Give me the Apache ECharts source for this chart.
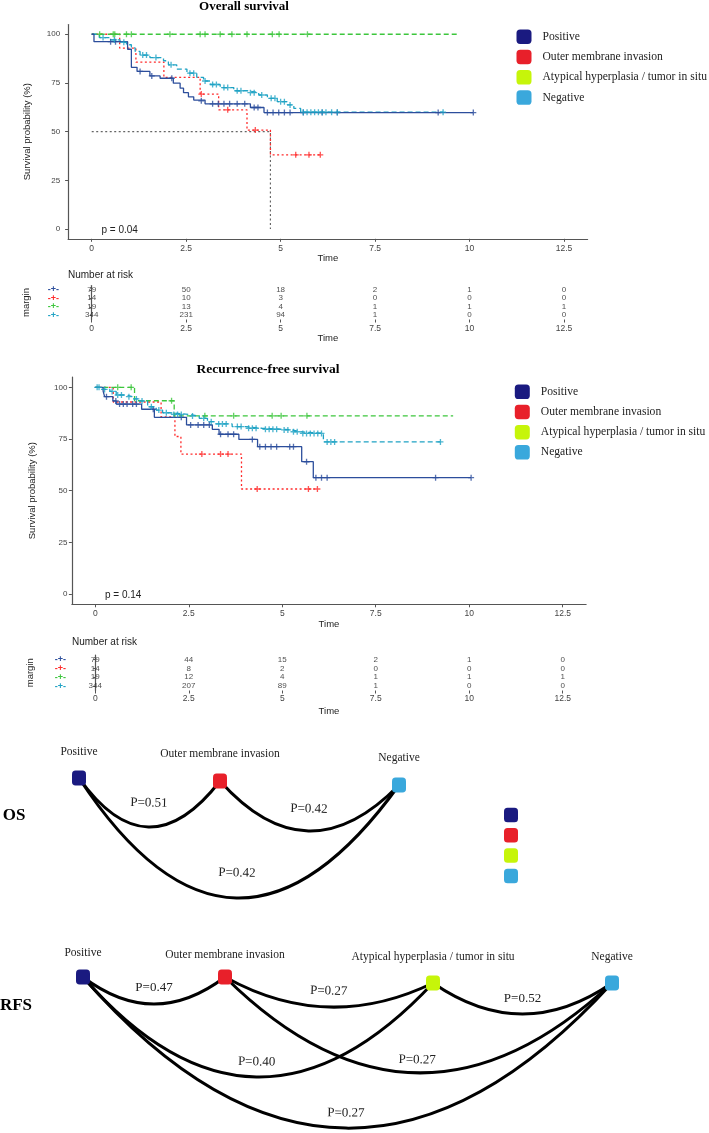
<!DOCTYPE html>
<html><head><meta charset="utf-8">
<script src="https://cdn.jsdelivr.net/npm/echarts@6/dist/echarts.min.js"></script>
<style>html,body{margin:0;padding:0;background:#fff}#c{width:709px;height:1133px}</style>
</head><body><div id="c"></div>
<script>
// ---------------- DATA ----------------
const groups = ['Positive', 'Outer membrane invasion', 'Atypical hyperplasia / tumor in situ', 'Negative'];
const timeTicks = [0, 2.5, 5, 7.5, 10, 12.5];
const survTicks = [0, 25, 50, 75, 100];
const riskTimes = [0, 2.5, 5, 7.5, 10, 12.5];

// Overall survival: step points [time, survival %] and censor marks
const osPositiveSteps = [[0,100],[0.06,96.2],[0.95,92.3],[1.05,83],[1.2,80.9],[1.54,78.6],[1.81,77.4],[2.16,74.9],[2.34,72.3],[2.43,70],[2.56,67.9],[2.7,66.2],[3.0,64.3],[4.2,62.4],[4.56,59.8],[10.1,59.8]];
const osPositiveCensor = [[0.5,96.2],[0.63,96.2],[1.28,80.9],[1.59,78.6],[2.12,77.4],[2.9,65.8],[3.2,64.3],[3.35,64.3],[3.5,64.3],[3.65,64.3],[3.85,64.3],[4.05,64.3],[4.3,62.4],[4.4,62.4],[4.65,59.8],[4.8,59.8],[4.95,59.8],[5.1,59.8],[5.25,59.8],[5.6,59.8],[6.1,59.8],[6.5,59.8],[9.17,59.8],[10.1,59.8]];
const osOuterSteps = [[0,100],[0.74,92.9],[1.17,85.7],[1.91,77.9],[2.87,69.3],[3.36,61.2],[4.11,50.8],[4.73,38.1],[6.05,38.1]];
const osOuterCensor = [[2.9,69.3],[3.6,61.2],[4.33,50.8],[5.4,38.1],[5.75,38.1],[6.05,38.1]];
const osAtypicalSteps = [[0,100],[9.74,100]];
const osAtypicalCensor = [[0.21,100],[0.57,100],[0.61,100],[0.92,100],[1.05,100],[2.07,100],[2.87,100],[3.0,100],[3.4,100],[3.71,100],[4.11,100],[4.78,100],[4.96,100],[5.71,100]];
const osNegativeSteps = [[0,100],[0.2,98.3],[0.48,97.1],[0.75,95.9],[0.92,94.6],[1.05,93],[1.15,91.2],[1.28,89.3],[1.54,88],[1.9,86.4],[2.03,84.3],[2.25,82.1],[2.52,80],[2.78,77.9],[2.96,76],[3.14,74.2],[3.4,72.6],[3.76,71],[4.11,70],[4.42,68.8],[4.65,67.1],[4.91,65.4],[5.18,63.7],[5.35,61.9],[5.53,60],[9.3,60]];
const osNegativeCensor = [[0.3,98.3],[0.6,97.1],[0.85,95.9],[1.35,89.3],[1.45,89.3],[1.7,88],[2.1,84.3],[2.6,80],[2.7,80],[3.0,76],[3.2,74.2],[3.3,74.2],[3.5,72.6],[3.6,72.6],[3.85,71],[3.95,71],[4.2,70],[4.3,70],[4.5,68.8],[4.75,67.1],[4.85,67.1],[5.0,65.4],[5.1,65.4],[5.25,63.7],[5.6,60],[5.7,60],[5.8,60],[5.9,60],[6.0,60],[6.1,60],[6.2,60],[6.35,60],[6.5,60],[9.3,60]];
const osMedianLine = [[0,50],[4.73,50],[4.73,0]];
const osPValue = 'p = 0.04';

// Recurrence-free survival
const rfsPositiveSteps = [[0,100],[0.21,98.2],[0.25,95.5],[0.47,93.4],[0.56,91.9],[1.24,89.4],[1.58,85.5],[2.44,81.8],[3.13,79.7],[3.31,77.3],[3.84,74.8],[4.34,71.3],[5.52,64],[5.83,56.3],[10.05,56.3]];
const rfsPositiveCensor = [[0.3,95.5],[0.55,93.4],[0.65,91.9],[0.75,91.9],[0.85,91.9],[1.0,91.9],[1.1,91.9],[1.55,89.4],[2.3,85.5],[2.55,81.8],[2.75,81.8],[2.9,81.8],[3.05,81.8],[3.35,77.3],[3.55,77.3],[3.7,77.3],[4.2,74.8],[4.4,71.3],[4.55,71.3],[4.7,71.3],[4.85,71.3],[5.2,71.3],[5.3,71.3],[5.65,64],[5.9,56.3],[6.05,56.3],[6.2,56.3],[9.1,56.3],[10.05,56.3]];
const rfsOuterSteps = [[0,100],[0.48,92.9],[1.76,85.7],[2.13,76.2],[2.29,67.7],[3.91,50.8],[5.94,50.8]];
const rfsOuterCensor = [[2.85,67.7],[3.35,67.7],[3.55,67.7],[4.33,50.8],[5.7,50.8],[5.94,50.8]];
const rfsAtypicalSteps = [[0,100],[1.05,93.5],[2.11,86.2],[9.57,86.2]];
const rfsAtypicalCensor = [[0.6,100],[0.96,100],[2.04,93.5],[2.93,86.2],[3.7,86.2],[4.73,86.2],[4.97,86.2],[5.66,86.2]];
const rfsNegativeSteps = [[0,100],[0.12,99],[0.39,98],[0.56,96.3],[0.83,95.5],[1.0,94.4],[1.18,93.4],[1.4,90.6],[1.63,89],[1.8,87.7],[1.98,86.9],[2.51,86.1],[2.78,85],[3.0,83.4],[3.22,82.3],[3.66,81],[4.02,80.2],[4.46,79.7],[4.99,79.4],[5.26,78.5],[5.48,77.7],[6.1,73.6],[9.23,73.6]];
const rfsNegativeCensor = [[0.05,100],[0.1,100],[0.25,99],[0.45,98],[0.6,96.3],[0.7,96.3],[0.9,95.5],[1.1,94.4],[1.25,93.4],[1.5,90.6],[1.7,89],[1.9,87.7],[2.1,86.9],[2.2,86.9],[2.3,86.9],[2.6,86.1],[2.9,85],[3.1,83.4],[3.3,82.3],[3.4,82.3],[3.5,82.3],[3.8,81],[3.9,81],[4.1,80.2],[4.2,80.2],[4.3,80.2],[4.55,79.7],[4.65,79.7],[4.75,79.7],[4.85,79.7],[5.05,79.4],[5.15,79.4],[5.3,78.5],[5.4,78.5],[5.55,77.7],[5.65,77.7],[5.75,77.7],[5.85,77.7],[5.95,77.7],[6.05,77.7],[6.2,73.6],[6.3,73.6],[6.4,73.6],[9.23,73.6]];
const rfsPValue = 'p = 0.14';

// Number at risk
const osRiskPositive = [79, 50, 18, 2, 1, 0];
const osRiskOuter = [14, 10, 3, 0, 0, 0];
const osRiskAtypical = [19, 13, 4, 1, 1, 1];
const osRiskNegative = [344, 231, 94, 1, 0, 0];
const rfsRiskPositive = [79, 44, 15, 2, 1, 0];
const rfsRiskOuter = [14, 8, 2, 0, 0, 0];
const rfsRiskAtypical = [19, 12, 4, 1, 1, 1];
const rfsRiskNegative = [344, 207, 89, 1, 0, 0];

// Pairwise comparisons (P values)
const osPairs = [[0, 1], [1, 3], [0, 3]];
const osPairP = [0.51, 0.42, 0.42];
const rfsPairs = [[0, 1], [1, 2], [2, 3], [0, 2], [1, 3], [0, 3]];
const rfsPairP = [0.47, 0.27, 0.52, 0.40, 0.27, 0.27];

// ---------------- STYLE / LAYOUT ----------------
const SANS = '"Liberation Sans", Arial, sans-serif';
const SERIF = '"Liberation Serif", "Times New Roman", serif';
const lineColors = ['#2C4E9C', '#FF2B2B', '#3CC63C', '#1FA2C4'];
const lineDash = ['solid', [2, 2.5], [5, 3], [5, 3]];
const nodeColors = ['#1A1A80', '#E8202A', '#C6F50A', '#3AA8DC'];
const PLUS = 'path://M0,3.9H10V6.1H0ZM3.9,0H6.1V10H3.9Z';
// network layout (pixel positions of nodes + label distance)
const osNetLayout = { 0: [79, 778, 12.75], 1: [220, 781, 13.75], 3: [399, 785, 13.75] };
const rfsNetLayout = { 0: [83, 977, 10.75], 1: [225, 977, 8.75], 2: [433, 983, 12.75], 3: [612, 983, 12.75] };
const osEdgeCurve = [-0.674, -0.536, -0.728];
const osEdgeDist = [17.5, 15.5, 18.5];
const rfsEdgeCurve = [-0.38, -0.26, -0.346, -0.554, -0.48, -0.56];
const rfsEdgeDist = [9.5, 9.5, 8.5, 8.5, 6.5, 8.5];

const axisColor = '#555';
function kmXAxis(grid, gap, lblMargin) {
  return {
    gridIndex: grid, type: 'value', min: -0.625, max: 13.125,
    splitLine: { show: false },
    axisLine: { onZero: false, lineStyle: { color: axisColor, width: 1.2 } },
    axisTick: { show: true, customValues: timeTicks, length: 3, lineStyle: { color: axisColor } },
    axisLabel: { customValues: timeTicks, margin: lblMargin, fontSize: 8.5, color: '#444', fontFamily: SANS },
    name: 'Time', nameLocation: 'middle', nameGap: gap,
    nameTextStyle: { fontSize: 9.5, color: '#222', fontFamily: SANS }
  };
}
function kmYAxis(grid, gap, lblMargin) {
  return {
    gridIndex: grid, type: 'value', min: -5, max: 105,
    splitLine: { show: false },
    axisLine: { onZero: false, lineStyle: { color: axisColor, width: 1.2 } },
    axisTick: { show: true, customValues: survTicks, length: 3, lineStyle: { color: axisColor } },
    axisLabel: { customValues: survTicks, margin: lblMargin, fontSize: 8, color: '#444', fontFamily: SANS },
    name: 'Survival probability (%)', nameLocation: 'middle', nameGap: gap, nameRotate: 90,
    nameTextStyle: { fontSize: 9.5, color: '#222', fontFamily: SANS }
  };
}
function riskYAxis(grid, gap, lblMargin) {
  const rich = {};
  lineColors.forEach((c, i) => { rich['g' + i] = { color: c, fontSize: 9, fontFamily: SANS, fontWeight: 'bold', lineHeight: 8 }; });
  return {
    gridIndex: grid, type: 'category', data: groups, inverse: true,
    axisLine: { lineStyle: { color: axisColor, width: 1.2 } },
    axisTick: { show: true, alignWithLabel: true, interval: 0, length: 2, lineStyle: { color: axisColor } },
    axisLabel: { interval: 0, margin: lblMargin, formatter: (v, i) => '{g' + i + '|-+-}', rich: rich },
    name: 'margin', nameLocation: 'middle', nameGap: gap, nameRotate: 90,
    nameTextStyle: { fontSize: 9.5, color: '#222', fontFamily: SANS }
  };
}

function kmSeries(axis, stepsList, censorList) {
  const out = [];
  stepsList.forEach((steps, i) => {
    out.push({
      type: 'line', name: groups[i], xAxisIndex: axis, yAxisIndex: axis,
      data: steps, step: 'end', showSymbol: false, symbol: 'none', silent: true,
      lineStyle: { color: lineColors[i], width: 1.3, type: lineDash[i] }, z: 3 + (i === 0 ? 1 : 0)
    });
    out.push({
      type: 'scatter', name: groups[i], xAxisIndex: axis, yAxisIndex: axis,
      data: censorList[i], symbol: PLUS, symbolSize: 6, silent: true,
      itemStyle: { color: lineColors[i] }, z: 4
    });
  });
  return out;
}
function riskSeries(axis, lists) {
  return lists.map((counts, i) => ({
    type: 'scatter', name: groups[i], xAxisIndex: axis, yAxisIndex: axis, silent: true,
    data: riskTimes.map((t, k) => [t, groups[i], counts[k]]),
    symbolSize: 0.1, itemStyle: { color: 'rgba(0,0,0,0)' },
    label: { show: true, position: 'inside', formatter: p => String(p.value[2]), fontSize: 8, color: '#222', fontFamily: SANS }
  }));
}
function netSeries(layout, pairs, pvals, curves, dists) {
  const keys = Object.keys(layout).map(Number);
  const nodes = keys.map(k => ({
    name: groups[k], value: [layout[k][0], layout[k][1]],
    itemStyle: { color: nodeColors[k] },
    label: { distance: layout[k][2] }
  }));
  const links = pairs.map((pr, j) => ({
    source: groups[pr[0]], target: groups[pr[1]], value: pvals[j],
    lineStyle: { curveness: curves[j] },
    label: { distance: dists[j] }
  }));
  return {
    type: 'graph', coordinateSystem: 'cartesian2d', xAxisIndex: 4, yAxisIndex: 4,
    silent: true, roam: false, symbol: 'roundRect', symbolSize: [14, 15],
    data: nodes, links: links,
    label: { show: true, position: 'top', fontFamily: SERIF, fontSize: 11.5, color: '#222' },
    edgeLabel: { show: true, position: 'middle', fontFamily: SERIF, fontSize: 13, color: '#222',
      formatter: p => 'P=' + Number(p.value).toFixed(2) },
    lineStyle: { color: '#000', width: 3, opacity: 1 },
    emphasis: { disabled: true }, z: 5
  };
}
function legendCfg(left, top, gap, showText) {
  return {
    orient: 'vertical', left: left, top: top, padding: 0, itemWidth: 15, itemHeight: 14.5, itemGap: gap,
    icon: 'roundRect', selectedMode: false,
    data: groups.map((g, i) => ({ name: g, itemStyle: { color: nodeColors[i], borderWidth: 0 } })),
    formatter: showText ? (n => '{t|' + n + '}') : (() => ''),
    textStyle: { rich: { t: { fontFamily: SERIF, fontSize: 11.6, color: '#222', padding: [0, 0, 0, 6] } } }
  };
}

const option = {
  animation: false,
  backgroundColor: '#fff',
  grid: [
    { left: 68.1, top: 24.5, width: 519.5, height: 214.3 },
    { left: 68.1, top: 285.5, width: 519.5, height: 34 },
    { left: 71.9, top: 377, width: 514.2, height: 227.3 },
    { left: 71.9, top: 655, width: 514.2, height: 35.5 },
    { left: 0, top: 0, width: 709, height: 1133 }
  ],
  xAxis: [
    kmXAxis(0, 13.5, 5),
    kmXAxis(1, 14, 4.3),
    kmXAxis(2, 15, 4.5),
    kmXAxis(3, 15.5, 4),
    { gridIndex: 4, type: 'value', min: 0, max: 709, show: false }
  ],
  yAxis: [
    kmYAxis(0, 35.3, 8),
    riskYAxis(1, 36.4, 9),
    kmYAxis(2, 34.1, 4.5),
    riskYAxis(3, 37, 6),
    { gridIndex: 4, type: 'value', min: 0, max: 1133, inverse: true, show: false }
  ],
  legend: [
    legendCfg(516.5, 29.4, 5.8, true),
    legendCfg(514.8, 384.5, 5.7, true),
    Object.assign(legendCfg(504, 807.75, 5.8, false), { itemWidth: 14 })
  ],
  graphic: [
    { type: 'text', x: 244, y: 6.5, style: { text: 'Overall survival', font: 'bold 13px ' + SERIF, fill: '#000', align: 'center', verticalAlign: 'middle' } },
    { type: 'text', x: 268, y: 370, style: { text: 'Recurrence-free survival', font: 'bold 13.5px ' + SERIF, fill: '#000', align: 'center', verticalAlign: 'middle' } },
    { type: 'text', x: 101.5, y: 230, style: { text: osPValue, font: '10px ' + SANS, fill: '#222', align: 'left', verticalAlign: 'middle' } },
    { type: 'text', x: 105, y: 595, style: { text: rfsPValue, font: '10px ' + SANS, fill: '#222', align: 'left', verticalAlign: 'middle' } },
    { type: 'text', x: 68, y: 275, style: { text: 'Number at risk', font: '10px ' + SANS, fill: '#222', align: 'left', verticalAlign: 'middle' } },
    { type: 'text', x: 72, y: 642.7, style: { text: 'Number at risk', font: '10px ' + SANS, fill: '#222', align: 'left', verticalAlign: 'middle' } },
    { type: 'text', x: 14, y: 816, style: { text: 'OS', font: 'bold 17px ' + SERIF, fill: '#000', align: 'center', verticalAlign: 'middle' } },
    { type: 'text', x: 16, y: 1006, style: { text: 'RFS', font: 'bold 17px ' + SERIF, fill: '#000', align: 'center', verticalAlign: 'middle' } }
  ],
  series: [].concat(
    [{ type: 'line', name: 'median', xAxisIndex: 0, yAxisIndex: 0, data: osMedianLine, showSymbol: false, symbol: 'none', silent: true,
       lineStyle: { color: '#666', width: 1.2, type: [2, 2.5] }, z: 2 }],
    kmSeries(0, [osPositiveSteps, osOuterSteps, osAtypicalSteps, osNegativeSteps],
                [osPositiveCensor, osOuterCensor, osAtypicalCensor, osNegativeCensor]),
    riskSeries(1, [osRiskPositive, osRiskOuter, osRiskAtypical, osRiskNegative]),
    kmSeries(2, [rfsPositiveSteps, rfsOuterSteps, rfsAtypicalSteps, rfsNegativeSteps],
                [rfsPositiveCensor, rfsOuterCensor, rfsAtypicalCensor, rfsNegativeCensor]),
    riskSeries(3, [rfsRiskPositive, rfsRiskOuter, rfsRiskAtypical, rfsRiskNegative]),
    [netSeries(osNetLayout, osPairs, osPairP, osEdgeCurve, osEdgeDist),
     netSeries(rfsNetLayout, rfsPairs, rfsPairP, rfsEdgeCurve, rfsEdgeDist)]
  )
};
const chart = echarts.init(document.getElementById('c'), null, { renderer: 'canvas', width: 709, height: 1133 });
chart.setOption(option);
</script>
</body></html>
